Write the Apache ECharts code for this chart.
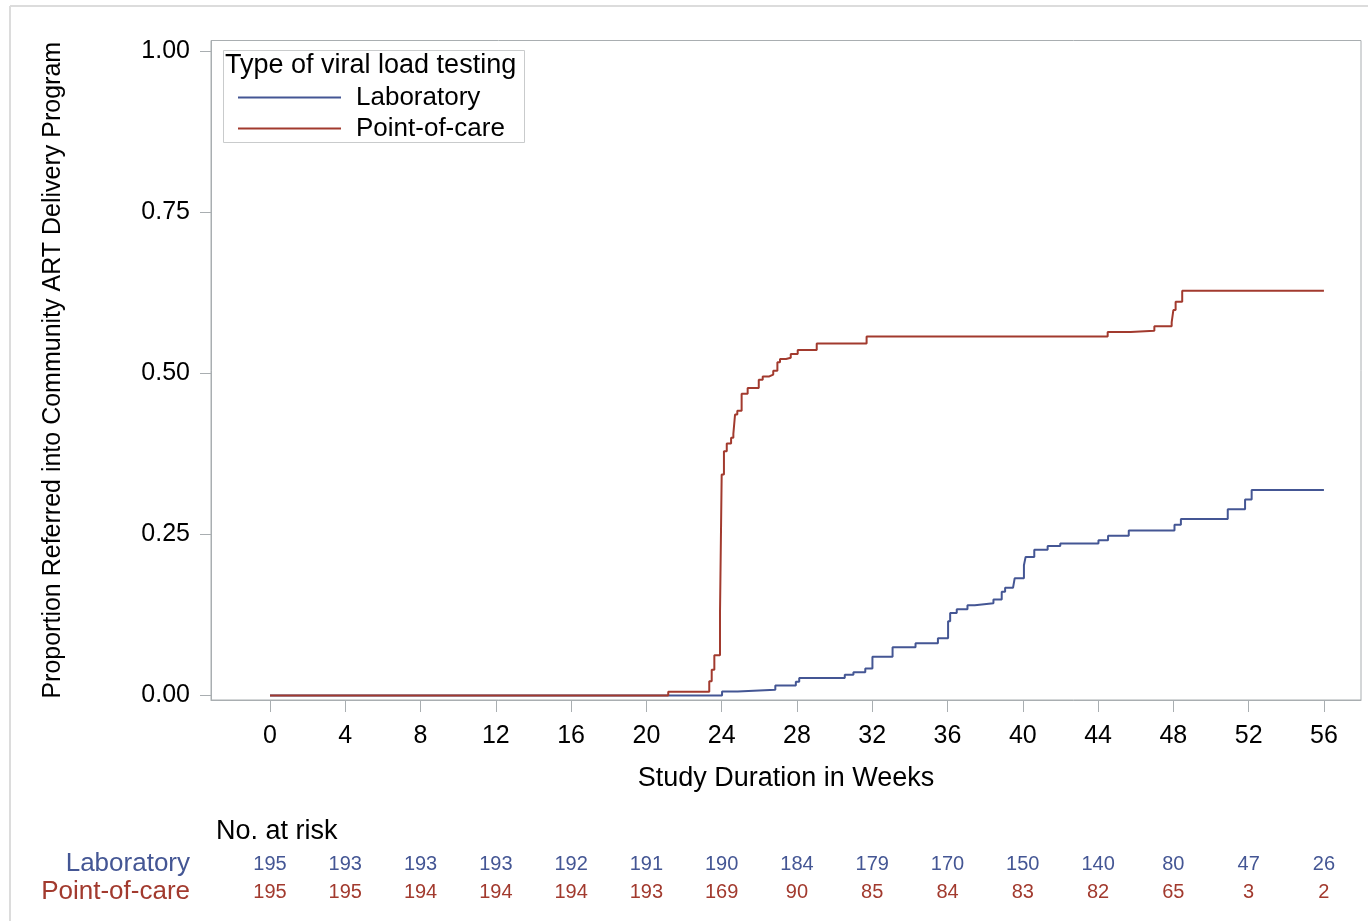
<!DOCTYPE html>
<html>
<head>
<meta charset="utf-8">
<script src="https://cdn.jsdelivr.net/npm/echarts@6/dist/echarts.min.js"></script>
<style>
html,body{margin:0;padding:0;background:#fff;}
#chart{width:1368px;height:921px;}
</style>
</head>
<body>
<div id="chart"></div>
<script>
// ---- data ----
var xTicks = [0, 4, 8, 12, 16, 20, 24, 28, 32, 36, 40, 44, 48, 52, 56];
var yTicks = [0, 0.25, 0.5, 0.75, 1];
var seriesNames = ['Laboratory', 'Point-of-care'];
var legendTitle = 'Type of viral load testing';
var xTitle = 'Study Duration in Weeks';
var yTitle = 'Proportion Referred into Community ART Delivery Program';
var riskTitle = 'No. at risk';

var labTimes = [0, 24.02, 24.85, 26.85, 27.94, 28.12, 30.54, 31.0, 31.63, 32.01, 33.08, 34.3, 35.49, 36.03, 36.14, 36.49, 37.06, 37.45, 38.44, 38.88, 39.06, 39.48, 39.57, 40.06, 40.15, 40.61, 41.32, 41.99, 44.02, 44.53, 45.63, 48.06, 48.4, 50.89, 51.81, 52.16, 56];
var labValues = [0, 0.006, 0.009, 0.0155, 0.0215, 0.027, 0.032, 0.036, 0.042, 0.060, 0.075, 0.081, 0.089, 0.115, 0.128, 0.134, 0.140, 0.143, 0.149, 0.161, 0.167, 0.169, 0.182, 0.202, 0.215, 0.226, 0.232, 0.236, 0.241, 0.248, 0.256, 0.265, 0.274, 0.289, 0.304, 0.319, 0.319];

var pocTimes = [0, 21.16, 23.34, 23.47, 23.61, 23.91, 24.0, 24.12, 24.27, 24.5, 24.62, 24.71, 24.83, 25.06, 25.38, 25.97, 26.18, 26.53, 26.74, 26.96, 27.1, 27.42, 27.67, 28.04, 29.05, 31.7, 44.51, 45.73, 46.99, 47.91, 48.0, 48.12, 48.47, 56];
var pocValues = [0, 0.0057, 0.022, 0.040, 0.0625, 0.1256, 0.343, 0.379, 0.391, 0.400, 0.406, 0.436, 0.442, 0.468, 0.477, 0.490, 0.495, 0.498, 0.504, 0.517, 0.522, 0.524, 0.530, 0.536, 0.546, 0.557, 0.564, 0.566, 0.573, 0.579, 0.598, 0.611, 0.628, 0.628];

var labAtRisk = [195, 193, 193, 193, 192, 191, 190, 184, 179, 170, 150, 140, 80, 47, 26];
var pocAtRisk = [195, 195, 194, 194, 194, 193, 169, 90, 85, 84, 83, 82, 65, 3, 2];

// ---- styles ----
var BLUE = '#445694';
var RED = '#A23A2E';
var FRAME = '#a9aeb1';
var FONT = '"Liberation Sans", Arial, sans-serif';

function pairs(t, v) { return t.map(function (x, i) { return [x, v[i]]; }); }

var chart = echarts.init(document.getElementById('chart'), null, { renderer: 'canvas' });

var option = {
  animation: false,
  backgroundColor: '#ffffff',
  grid: {
    left: 211, top: 40.5, right: 7, bottom: 221,
    show: true, borderColor: FRAME, borderWidth: 1, backgroundColor: 'transparent'
  },
  xAxis: {
    type: 'value',
    min: -3.135, max: 57.97,
    name: xTitle,
    nameLocation: 'middle',
    nameGap: 65,
    nameTextStyle: { fontFamily: FONT, fontSize: 27, color: '#000' },
    axisLine: { show: true, onZero: false, lineStyle: { color: FRAME, width: 1 } },
    axisTick: { show: true, length: 12, customValues: xTicks, lineStyle: { color: FRAME } },
    axisLabel: { customValues: xTicks, margin: 24, fontFamily: FONT, fontSize: 25, color: '#000' },
    splitLine: { show: false }
  },
  yAxis: {
    type: 'value',
    min: -0.007, max: 1.0163,
    name: yTitle,
    nameLocation: 'middle',
    nameRotate: 90,
    nameGap: 145,
    nameTextStyle: { fontFamily: FONT, fontSize: 25, color: '#000' },
    axisLine: { show: true, onZero: false, lineStyle: { color: FRAME, width: 1 } },
    axisTick: { show: true, length: 11, customValues: yTicks, lineStyle: { color: FRAME } },
    axisLabel: {
      customValues: yTicks, margin: 21, fontFamily: FONT, fontSize: 25, color: '#000',
      formatter: function (v) { return v.toFixed(2); }
    },
    splitLine: { show: false }
  },
  legend: {
    orient: 'vertical',
    left: 233, top: 79.5,
    icon: 'rect',
    itemWidth: 103, itemHeight: 2, itemGap: 5,
    textStyle: { fontFamily: FONT, fontSize: 26, color: '#000', padding: [0, 0, 0, 10] },
    data: seriesNames
  },
  series: [
    {
      name: seriesNames[0], type: 'line', step: 'end', symbol: 'none',
      data: pairs(labTimes, labValues),
      lineStyle: { color: BLUE, width: 2 }, itemStyle: { color: BLUE }, z: 2
    },
    {
      name: seriesNames[1], type: 'line', step: 'end', symbol: 'none',
      data: pairs(pocTimes, pocValues),
      lineStyle: { color: RED, width: 2 }, itemStyle: { color: RED }, z: 3
    }
  ]
};
chart.setOption(option);

// ---- decorations & at-risk table positioned through the axis scale ----
var g = [];
// outer frame
g.push({ type: 'line', shape: { x1: 10, y1: 6, x2: 1368, y2: 6 }, style: { stroke: '#dcdcdc', lineWidth: 2 }, silent: true });
g.push({ type: 'line', shape: { x1: 10, y1: 6, x2: 10, y2: 921 }, style: { stroke: '#dcdcdc', lineWidth: 2 }, silent: true });
// legend box and title
g.push({ type: 'rect', shape: { x: 223.5, y: 50.5, width: 301, height: 92 }, style: { fill: 'none', stroke: '#c9cbcc', lineWidth: 1 }, silent: true, z: 10 });
g.push({ type: 'text', x: 225, y: 65.5, style: { text: legendTitle, font: '27px ' + FONT, fill: '#000', textAlign: 'left', textVerticalAlign: 'middle' }, silent: true, z: 10 });
// at-risk table
g.push({ type: 'text', x: 216, y: 832, style: { text: riskTitle, font: '27px ' + FONT, fill: '#000', textAlign: 'left', textVerticalAlign: 'middle' }, silent: true });
g.push({ type: 'text', x: 190, y: 864, style: { text: seriesNames[0], font: '26px ' + FONT, fill: BLUE, textAlign: 'right', textVerticalAlign: 'middle' }, silent: true });
g.push({ type: 'text', x: 190, y: 892, style: { text: seriesNames[1], font: '26px ' + FONT, fill: RED, textAlign: 'right', textVerticalAlign: 'middle' }, silent: true });
xTicks.forEach(function (t, i) {
  var px = chart.convertToPixel({ xAxisIndex: 0 }, t);
  g.push({ type: 'text', x: px, y: 864, style: { text: String(labAtRisk[i]), font: '20px ' + FONT, fill: BLUE, textAlign: 'center', textVerticalAlign: 'middle' }, silent: true });
  g.push({ type: 'text', x: px, y: 892, style: { text: String(pocAtRisk[i]), font: '20px ' + FONT, fill: RED, textAlign: 'center', textVerticalAlign: 'middle' }, silent: true });
});
chart.setOption({ graphic: { elements: g } });
</script>
</body>
</html>
